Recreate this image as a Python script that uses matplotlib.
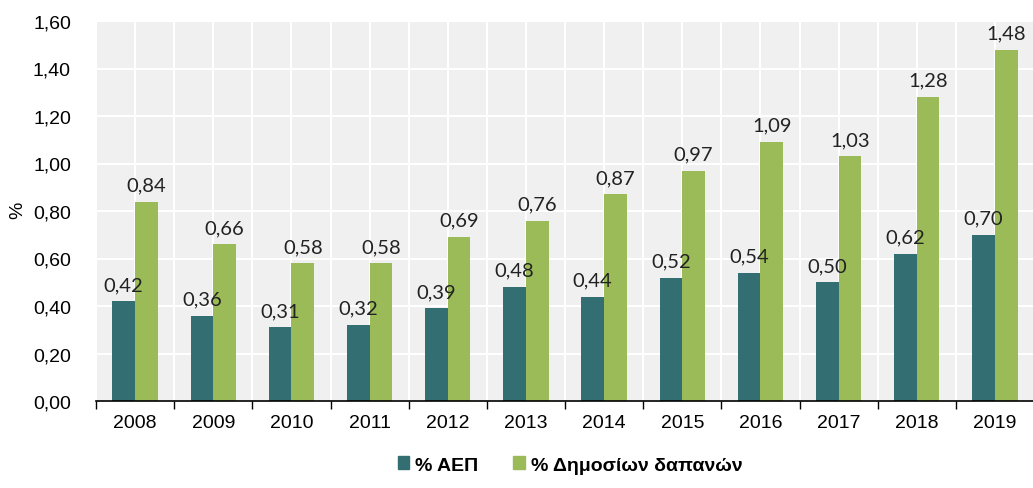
import matplotlib
matplotlib.use("Agg")
import matplotlib.pyplot as plt
import numpy as np
from matplotlib.patches import Patch

years = ["2008", "2009", "2010", "2011", "2012", "2013", "2014", "2015", "2016", "2017", "2018", "2019"]
gdp = [0.42, 0.36, 0.31, 0.32, 0.39, 0.48, 0.44, 0.52, 0.54, 0.50, 0.62, 0.70]
public = [0.84, 0.66, 0.58, 0.58, 0.69, 0.76, 0.87, 0.97, 1.09, 1.03, 1.28, 1.48]
series_names = ["% ΑΕΠ", "% Δημοσίων δαπανών"]
yticks = [0.0, 0.2, 0.4, 0.6, 0.8, 1.0, 1.2, 1.4, 1.6]

c_dark = "#336F72"
c_green = "#9BBB59"

fig = plt.figure(figsize=(10.33, 4.89), dpi=100)
ax = fig.add_axes([96/1033, 1 - 402/489, (1034-96)/1033, (402-22)/489])
ax.set_facecolor("#F0F0F0")

x = np.arange(len(years))
w = 0.29
ax.bar(x - w/2, gdp, w, color=c_dark, zorder=3)
ax.bar(x + w/2, public, w, color=c_green, zorder=3)

lab_font = dict(family=["Lato", "DejaVu Sans"], fontsize=14.5, color="#222222")
for i in range(len(years)):
    ax.text(x[i] - w/2, gdp[i] + 0.035, f"{gdp[i]:.2f}".replace(".", ","), ha="center", va="bottom", **lab_font)
    ax.text(x[i] + w/2, public[i] + 0.035, f"{public[i]:.2f}".replace(".", ","), ha="center", va="bottom", **lab_font)

ax.set_xlim(-0.5, len(years) - 0.5)
ax.set_ylim(0, 1.6)
ax.set_yticks(yticks)
ax.set_yticklabels([f"{v:.2f}".replace(".", ",") for v in yticks], fontsize=14, family="Liberation Sans")
ax.set_xticks(x)
ax.set_xticklabels(years, fontsize=14, family="Liberation Sans")
ax.tick_params(axis="x", which="major", length=0, pad=9)
ax.set_xticks(np.arange(-0.5, len(years), 1), minor=True)
ax.tick_params(axis="x", which="minor", length=6, width=1, direction="out", color="black")
ax.tick_params(axis="y", length=0, pad=18)

# white grid
for yv in yticks[1:]:
    ax.axhline(yv, color="white", lw=1.5, zorder=1)
for xv in np.arange(-0.5, len(years), 0.5):
    ax.axvline(xv, color="white", lw=1.5, zorder=1)

for s in ["top", "right", "left"]:
    ax.spines[s].set_visible(False)
ax.spines["bottom"].set_color("black")
ax.spines["bottom"].set_linewidth(1.2)
ax.spines["bottom"].set_zorder(4)

fig.text(18/1033, 1 - 210/489, "%", rotation=90, ha="center", va="center", fontsize=14, family="Liberation Sans")

handles = [Patch(color=c_dark), Patch(color=c_green)]
fig.legend(handles, series_names, loc="center", bbox_to_anchor=(570/1033, 1 - 466/489), ncol=2, frameon=False,
           prop=dict(family="Liberation Sans", weight="bold", size=14), handlelength=0.6, handleheight=0.6,
           handletextpad=0.3, columnspacing=1.8)

fig.savefig("out.png", dpi=100)
